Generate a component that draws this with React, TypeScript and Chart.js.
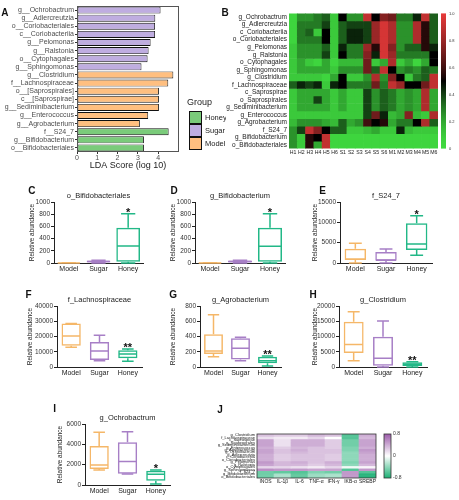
import React, { useEffect, useRef } from 'react';
import { Chart, registerables } from 'chart.js';

Chart.register(...registerables);

const FONT = "'Liberation Sans', Arial, Helvetica, sans-serif";

// ---------- Panel A: LDA scores ----------
const ldaTaxa = [
  'g__Ochrobactrum', 'g__Adlercreutzia', 'o__Coriobacteriales', 'c__Coriobacteriia',
  'g__Pelomonas', 'g__Ralstonia', 'o__Cytophagales', 'g__Sphingomonas',
  'g__Clostridium', 'f__Lachnospiraceae', 'o__[Saprospirales]', 'c__[Saprospirae]',
  'g__Sediminibacterium', 'g__Enterococcus', 'g__Agrobacterium',
  'f__S24_7', 'g__Bifidobacterium', 'o__Bifidobacteriales',
];
const ldaScores = [4.12, 3.86, 3.85, 3.85, 3.63, 3.53, 3.48, 3.18, 4.75, 4.5, 4.04, 4.04, 4.04, 3.51, 3.1, 4.52, 3.3, 3.3];
const ldaGroup = [
  'Sugar', 'Sugar', 'Sugar', 'Sugar', 'Sugar', 'Sugar', 'Sugar', 'Sugar',
  'Model', 'Model', 'Model', 'Model', 'Model', 'Model', 'Model',
  'Honey', 'Honey', 'Honey',
];
const ldaTicks = [0, 1, 2, 3, 4];
const groupNames = ['Honey', 'Sugar', 'Model'];
const groupFill = ['#7ACB7A', '#BFADE0', '#FFBF80'];

// ---------- Panel B: abundance heatmap ----------
const hmSamples = ['H1', 'H2', 'H3', 'H4', 'H5', 'H6', 'S1', 'S2', 'S3', 'S4', 'S5', 'S6', 'M1', 'M2', 'M3', 'M4', 'M5', 'M6'];
const hmTaxa = [
  'g_Ochrobactrum', 'g_Adlercreutzia', 'c_Coriobacteriia', 'o_Coriobacteriales',
  'g_Pelomonas', 'g_Ralstonia', 'o_Cytophagales', 'g_Sphingomonas',
  'g_Clostridium', 'f_Lachnospiraceae', 'c_Saprospirae', 'o_Saprospirales',
  'g_Sediminibacterium', 'g_Enterococcus', 'g_Agrobacterium', 'f_S24_7',
  'g_Bifidobacterium', 'o_Bifidobacteriales',
];
const hmValues = [
  [0.05, 0.25, 0.25, 0.3, 0.35, 0.1, 0.5, 0.25, 0.25, 0.9, 0.5, 0.75, 0.7, 0.3, 0.3, 0.45, 0.9, 0.35],
  [0.05, 0.3, 0.3, 0.3, 0.4, 0.1, 0.35, 0.4, 0.4, 0.4, 0.8, 0.95, 0.85, 0.25, 0.25, 0.85, 0.55, 0.35],
  [0.05, 0.3, 0.35, 0.1, 0.5, 0.1, 0.35, 0.45, 0.45, 0.4, 0.8, 0.95, 0.85, 0.25, 0.25, 0.85, 0.55, 0.35],
  [0.05, 0.3, 0.3, 0.3, 0.5, 0.1, 0.35, 0.45, 0.45, 0.4, 0.8, 0.95, 0.85, 0.25, 0.25, 0.85, 0.55, 0.35],
  [0.1, 0.25, 0.25, 0.25, 0.35, 0.1, 0.45, 0.3, 0.3, 0.8, 0.55, 0.95, 0.75, 0.25, 0.35, 0.35, 0.55, 0.45],
  [0.1, 0.25, 0.25, 0.25, 0.4, 0.1, 0.5, 0.3, 0.3, 0.75, 0.45, 0.95, 0.8, 0.3, 0.3, 0.3, 0.3, 0.5],
  [0.1, 0.2, 0.1, 0.05, 0.2, 0.05, 0.15, 0.15, 0.15, 0.7, 0.1, 0.2, 0.85, 0.1, 0.2, 0.05, 0.2, 0.5],
  [0.1, 0.2, 0.2, 0.2, 0.2, 0.1, 0.25, 0.25, 0.25, 0.7, 0.35, 0.9, 0.5, 0.25, 0.3, 0.25, 0.35, 0.3],
  [0.1, 0.1, 0.1, 0.1, 0.05, 0.2, 0.5, 0.1, 0.1, 0.25, 0.85, 0.25, 0.75, 0.5, 0.1, 0.3, 0.35, 0.9],
  [0.35, 0.45, 0.4, 0.45, 0.1, 0.45, 0.5, 0.3, 0.3, 0.3, 0.7, 0.3, 0.9, 0.8, 0.5, 0.5, 0.7, 0.9],
  [0.1, 0.2, 0.2, 0.2, 0.2, 0.1, 0.2, 0.1, 0.1, 0.4, 0.25, 0.35, 0.3, 0.2, 0.25, 0.2, 0.85, 0.2],
  [0.1, 0.2, 0.2, 0.4, 0.2, 0.1, 0.2, 0.1, 0.1, 0.4, 0.25, 0.35, 0.3, 0.2, 0.25, 0.2, 0.85, 0.2],
  [0.1, 0.2, 0.2, 0.2, 0.2, 0.1, 0.2, 0.1, 0.1, 0.4, 0.25, 0.35, 0.3, 0.2, 0.25, 0.2, 0.85, 0.2],
  [0.1, 0.1, 0.1, 0.1, 0.1, 0.1, 0.1, 0.1, 0.1, 0.4, 0.7, 0.45, 0.15, 0.2, 0.75, 0.15, 0.1, 0.85],
  [0.15, 0.25, 0.25, 0.25, 0.2, 0.15, 0.35, 0.2, 0.25, 0.6, 0.5, 0.55, 0.2, 0.3, 0.3, 0.5, 0.85, 0.35],
  [0.25, 0.4, 0.9, 0.75, 0.5, 0.35, 0.35, 0.1, 0.1, 0.15, 0.2, 0.1, 0.1, 0.45, 0.15, 0.1, 0.1, 0.1],
  [0.25, 0.1, 0.55, 0.5, 0.9, 0.05, 0.05, 0.05, 0.05, 0.05, 0.05, 0.05, 0.05, 0.05, 0.05, 0.05, 0.05, 0.05],
  [0.25, 0.1, 0.55, 0.2, 0.9, 0.05, 0.05, 0.05, 0.05, 0.05, 0.05, 0.05, 0.05, 0.05, 0.05, 0.05, 0.05, 0.05],
];
const hmBarTicks = [0, 0.2, 0.4, 0.6, 0.8, 1];

// ---------- Panels C–I: box plots (min, q1, median, q3, max) ----------
const boxGroups = ['Model', 'Sugar', 'Honey'];
const boxC = [[0, 0, 1, 3, 5], [0, 10, 25, 40, 45], [0, 20, 279, 579, 808]];
const boxD = [[0, 0, 1, 3, 5], [0, 10, 25, 40, 45], [0, 20, 275, 579, 808]];
const boxE = [[0, 740, 900, 3520, 4840], [0, 570, 700, 2700, 3440], [1890, 3200, 4670, 9760, 11630]];
const boxF = [[12900, 14000, 20300, 28600, 28600], [4100, 4600, 10500, 16400, 20800], [3700, 5700, 8500, 11000, 11800]];
const boxG = [[135, 170, 210, 429, 686], [83, 100, 245, 376, 390], [13, 48, 83, 135, 144]];
const boxH = [[2070, 4600, 7400, 14850, 18100], [0, 430, 2850, 9900, 15100], [0, 330, 880, 1540, 1750]];
const boxI = [[1480, 1570, 1970, 3840, 5180], [1080, 1110, 2300, 4200, 5240], [100, 420, 1050, 1410, 1480]];
const boxSig = ['', '', '*'];
const boxSig2 = ['', '', '**'];
const boxColors = ['#F5B768', '#A77FC6', '#22B887'];

// ---------- Panel J: correlation heatmap ----------
const corrMarkers = ['INOS', 'IL-1β', 'IL-6', 'TNF-α', 'IFN-γ', 'IKB-α', 'SREBP'];
const corrTaxa = [
  'g_Clostridium', 'f_Lachnospiraceae', 'c_Saprospirae', 'o_Saprospirales',
  'g_Sediminibacterium', 'g_Enterococcus', 'g_Agrobacterium', 'g_Ochrobactrum',
  'g_Adlercreutzia', 'c_Coriobacteriia', 'o_Coriobacteriales', 'g_Pelomonas',
  'g_Ralstonia', 'o_Cytophagales', 'g_Sphingomonas', 'f_S24_7',
  'g_Bifidobacterium', 'o_Bifidobacteriales',
];
const corrValues = [
  [0.3, 0.25, 0.25, 0.35, 0.3, -0.6, 0.4],
  [0.15, 0.1, 0.1, 0.2, 0.0, -0.6, 0.35],
  [0.45, 0.15, 0.4, 0.4, 0.25, -0.5, 0.45],
  [0.45, 0.15, 0.4, 0.4, 0.25, -0.5, 0.45],
  [0.45, 0.15, 0.4, 0.4, 0.25, -0.5, 0.45],
  [0.4, 0.25, 0.35, 0.3, 0.25, -0.45, 0.4],
  [0.45, 0.3, 0.4, 0.3, 0.3, -0.45, 0.5],
  [0.45, 0.3, 0.35, 0.3, 0.3, -0.4, 0.45],
  [0.4, 0.25, 0.3, 0.3, 0.25, -0.4, 0.4],
  [0.4, 0.25, 0.3, 0.3, 0.25, -0.4, 0.4],
  [0.4, 0.25, 0.3, 0.3, 0.25, -0.4, 0.4],
  [0.5, 0.35, 0.4, 0.3, 0.4, -0.45, 0.45],
  [0.45, 0.35, 0.35, 0.25, 0.35, -0.4, 0.35],
  [0.2, 0.2, 0.15, 0.1, 0.2, -0.05, 0.05],
  [0.55, 0.5, 0.5, 0.45, 0.45, -0.6, 0.5],
  [-0.5, -0.55, -0.6, -0.45, -0.5, 0.5, -0.6],
  [-0.5, -0.3, -0.55, -0.35, -0.3, 0.5, -0.75],
  [-0.5, -0.3, -0.55, -0.35, -0.3, 0.5, -0.75],
];
const corrBarTicks = [-0.8, 0, 0.8];

// ---------- colour maps ----------
function lerp(a: number[], b: number[], t: number) {
  const c = a.map((x, i) => Math.round(x + (b[i] - x) * t));
  return `rgb(${c[0]},${c[1]},${c[2]})`;
}
function greenBlackRed(v: number) {
  const g = [64, 218, 64], k = [0, 0, 0], r = [232, 58, 58];
  if (v <= 0.5) return lerp(g, k, Math.pow(v / 0.5, 1.6));
  return lerp(k, r, Math.pow((v - 0.5) / 0.5, 0.8));
}
function greenWhitePurple(v: number) {
  const w = [255, 255, 255], p = [156, 92, 170], g = [28, 176, 116];
  if (v >= 0) return lerp(w, p, Math.min(1, v / 0.8));
  return lerp(w, g, Math.min(1, -v / 0.8));
}
const plainNumber = (v: number) => String(v);

// ---------- chart builders ----------
const framePlugin = {
  id: 'frameA',
  afterDraw(chart: any) {
    const a = chart.chartArea, ctx = chart.ctx;
    ctx.save();
    ctx.strokeStyle = '#555';
    ctx.lineWidth = 1;
    ctx.strokeRect(a.left + 0.5, a.top + 0.5, a.right - a.left - 1, a.bottom - a.top - 1);
    ctx.restore();
  },
};
const legendPlugin = {
  id: 'legendA',
  afterDraw(chart: any) {
    const a = chart.chartArea, ctx = chart.ctx;
    ctx.save();
    ctx.fillStyle = '#222';
    ctx.font = `9px ${FONT}`;
    ctx.textBaseline = 'middle';
    ctx.textAlign = 'left';
    ctx.fillText('Group', a.right + 8, 103);
    groupNames.forEach((g, i) => {
      const y = 111 + i * 13;
      ctx.fillStyle = groupFill[i];
      ctx.fillRect(a.right + 10, y, 13, 13);
      ctx.strokeStyle = '#111';
      ctx.lineWidth = 1;
      ctx.strokeRect(a.right + 10.5, y + 0.5, 12, 12);
      ctx.fillStyle = '#222';
      ctx.font = `7.5px ${FONT}`;
      ctx.fillText(g, a.right + 26, y + 7);
    });
    ctx.restore();
  },
};

function ldaConfig(): any {
  return {
    type: 'bar',
    data: {
      labels: ldaTaxa,
      datasets: [{
        data: ldaScores,
        backgroundColor: ldaGroup.map((g) => groupFill[groupNames.indexOf(g)]),
        borderColor: '#111',
        borderWidth: 0.9,
        borderSkipped: false,
        barPercentage: 0.86,
        categoryPercentage: 1,
      }],
    },
    options: {
      indexAxis: 'y',
      responsive: false,
      animation: false,
      devicePixelRatio: 1,
      layout: { padding: { top: 6, right: 47, left: 0, bottom: 0 } },
      plugins: { legend: { display: false }, tooltip: { enabled: false } },
      scales: {
        x: {
          min: 0, max: 5.03,
          afterBuildTicks: (s: any) => { s.ticks = ldaTicks.map((v) => ({ value: v })); },
          ticks: { font: { size: 7, family: FONT }, color: '#4d4d4d', padding: 0, callback: plainNumber },
          grid: { display: true, drawOnChartArea: false, drawTicks: true, tickLength: 2, color: '#333' },
          border: { display: false },
          title: { display: true, text: 'LDA Score (log 10)', font: { size: 9, family: FONT }, color: '#222', padding: { top: 0, bottom: 1 } },
          afterFit: (s: any) => { s.height = 20; },
        },
        y: {
          ticks: { font: { size: 7, family: FONT }, color: '#4d4d4d', padding: 1, autoSkip: false },
          grid: { display: true, offset: false, drawOnChartArea: false, drawTicks: true, tickLength: 2, color: '#333' },
          border: { display: false },
          afterFit: (s: any) => { s.width = 77; },
        },
      },
    },
    plugins: [framePlugin, legendPlugin],
  };
}

type HeatOpts = {
  id: string; rows: string[]; cols: string[]; values: number[][]; color: (v: number) => string;
  yFont: number; xFont: number; yAxisW: number; xAxisH: number; padTop: number;
  cbMin: number; cbMax: number; cbTicks: number[]; cbLabel: (v: number) => string; cbFont: number;
  cbOffset: number; cbWidth: number; cbPad: number; cbAxisW: number; frame: boolean;
};
function heatConfig(o: HeatOpts): any {
  const datasets = o.rows.map((r, i) => ({
    label: r,
    data: o.cols.map(() => 1),
    backgroundColor: o.values[i].map(o.color),
    borderWidth: 0,
    barPercentage: 1,
    categoryPercentage: 1,
    xAxisID: 'x',
    yAxisID: 'y',
    stack: 'cells',
  }));
  const cbPlugin = {
    id: 'colorbar' + o.id,
    afterDraw(chart: any) {
      const s = chart.scales.cb, ctx = chart.ctx;
      const top = s.getPixelForValue(o.cbMax), bot = s.getPixelForValue(o.cbMin);
      const x0 = s.left + o.cbOffset;
      const g = ctx.createLinearGradient(0, bot, 0, top);
      for (let k = 0; k <= 40; k++) {
        const v = o.cbMin + ((o.cbMax - o.cbMin) * k) / 40;
        g.addColorStop(k / 40, o.color(v));
      }
      ctx.save();
      ctx.fillStyle = g;
      ctx.fillRect(x0, top, o.cbWidth, bot - top);
      if (o.frame) {
        ctx.strokeStyle = '#333';
        ctx.lineWidth = 0.8;
        ctx.strokeRect(x0, top, o.cbWidth, bot - top);
        const a = chart.chartArea;
        ctx.strokeRect(a.left, a.top, a.right - a.left, a.bottom - a.top);
      }
      ctx.restore();
    },
  };
  return {
    type: 'bar',
    data: { labels: o.cols, datasets },
    options: {
      responsive: false,
      animation: false,
      devicePixelRatio: 1,
      layout: { padding: { top: o.padTop, right: 0, left: 0, bottom: 0 } },
      plugins: { legend: { display: false }, tooltip: { enabled: false } },
      scales: {
        x: {
          stacked: true,
          ticks: { font: { size: o.xFont, family: FONT }, color: '#222', padding: 1, autoSkip: false, maxRotation: 0 },
          grid: { display: false, drawTicks: false },
          border: { display: false },
          afterFit: (s: any) => { s.height = o.xAxisH; },
        },
        y: {
          stacked: true,
          reverse: true,
          min: 0,
          max: o.rows.length,
          afterBuildTicks: (s: any) => { s.ticks = o.rows.map((_, i) => ({ value: i + 0.5 })); },
          ticks: {
            font: { size: o.yFont, family: FONT }, color: '#222', padding: 2, autoSkip: false,
            callback: (v: number) => o.rows[Math.floor(v)],
          },
          grid: { display: false, drawTicks: false },
          border: { display: false },
          afterFit: (s: any) => { s.width = o.yAxisW; },
        },
        cb: {
          axis: 'y',
          position: 'right',
          min: o.cbMin,
          max: o.cbMax,
          afterBuildTicks: (s: any) => { s.ticks = o.cbTicks.map((v) => ({ value: v })); },
          ticks: { font: { size: o.cbFont, family: FONT }, color: '#333', padding: o.cbPad, autoSkip: false, callback: (v: number) => o.cbLabel(v) },
          grid: { display: false, drawTicks: false },
          border: { display: false },
          afterFit: (s: any) => { s.width = o.cbAxisW; },
        },
      },
    },
    plugins: [cbPlugin],
  };
}

type BoxSpec = {
  key: string; title: string; stats: number[][]; sig: string[]; max: number; step: number;
  L: number; R: number; T: number; B: number; yTitleX: number; barPct: number;
};
function boxLayout(s: BoxSpec) {
  const left = Math.round(s.yTitleX - 4.5);
  const top = s.T - 12;
  const padR = 6;
  const xAxisH = 12;
  return { left, top, width: s.R + padR - left, height: s.B + xAxisH - top, padR, xAxisH };
}
function boxConfig(s: BoxSpec): any {
  const lay = boxLayout(s);
  const yAxisW = s.L - lay.left;
  const tickFont = { size: 6.5, family: FONT };
  const extras = {
    id: 'box' + s.key,
    afterDatasetsDraw(chart: any) {
      const meta = chart.getDatasetMeta(0);
      const y = chart.scales.y;
      const ctx = chart.ctx;
      ctx.save();
      meta.data.forEach((bar: any, i: number) => {
        const p = bar.getProps(['x', 'width'], true);
        const st = s.stats[i];
        const col = boxColors[i];
        const cx = p.x, w = p.width;
        const yMin = y.getPixelForValue(st[0]);
        const yQ1 = y.getPixelForValue(st[1]);
        const yMed = y.getPixelForValue(st[2]);
        const yQ3 = y.getPixelForValue(st[3]);
        const yMax = y.getPixelForValue(st[4]);
        ctx.strokeStyle = col;
        ctx.lineWidth = 1.5;
        ctx.beginPath();
        ctx.moveTo(cx, yMin); ctx.lineTo(cx, yQ1);
        ctx.moveTo(cx, yQ3); ctx.lineTo(cx, yMax);
        ctx.moveTo(cx - w * 0.3, yMin); ctx.lineTo(cx + w * 0.3, yMin);
        ctx.moveTo(cx - w * 0.3, yMax); ctx.lineTo(cx + w * 0.3, yMax);
        ctx.moveTo(cx - w / 2 + 0.75, yMed); ctx.lineTo(cx + w / 2 - 0.75, yMed);
        ctx.stroke();
        if (s.sig[i]) {
          ctx.fillStyle = '#111';
          ctx.font = `bold 11px ${FONT}`;
          ctx.textAlign = 'center';
          ctx.textBaseline = 'alphabetic';
          ctx.fillText(s.sig[i], cx, yMax + 2);
        }
      });
      ctx.restore();
    },
  };
  return {
    type: 'bar',
    data: {
      labels: boxGroups,
      datasets: [{
        data: s.stats.map((st) => [st[1], st[3]]),
        backgroundColor: 'rgba(0,0,0,0)',
        borderColor: boxColors,
        borderWidth: 1.5,
        borderSkipped: false,
        barPercentage: s.barPct,
        categoryPercentage: 1,
      }],
    },
    options: {
      responsive: false,
      animation: false,
      devicePixelRatio: 1,
      layout: { padding: { left: 0, right: lay.padR, top: 0, bottom: 0 } },
      plugins: {
        legend: { display: false },
        tooltip: { enabled: false },
        title: { display: true, fullSize: false, text: s.title, font: { size: 7.5, family: FONT, weight: 'normal' }, color: '#222', padding: { top: 1.5, bottom: 1.5 } },
      },
      scales: {
        x: {
          ticks: { font: { size: 7, family: FONT }, color: '#222', padding: 2, autoSkip: false, maxRotation: 0 },
          grid: { display: false, drawTicks: false },
          border: { display: true, color: '#222', width: 1 },
          afterFit: (sc: any) => { sc.height = lay.xAxisH; },
        },
        y: {
          min: 0,
          max: s.max,
          ticks: { stepSize: s.step, font: tickFont, color: '#333', padding: 1, callback: plainNumber },
          grid: { display: true, drawOnChartArea: false, drawTicks: true, tickLength: 3, color: '#222' },
          border: { display: true, color: '#222', width: 1 },
          title: { display: true, text: 'Relative abundance', font: { size: 6.5, family: FONT }, color: '#222', padding: { top: s.yTitleX - lay.left - 3.9, bottom: 0 } },
          afterFit: (sc: any) => { sc.width = yAxisW; },
        },
      },
    },
    plugins: [extras],
  };
}

function ChartCanvas({ left, top, width, height, make }: { left: number; top: number; width: number; height: number; make: () => any }) {
  const ref = useRef<HTMLCanvasElement>(null);
  useEffect(() => {
    const chart = new Chart(ref.current as HTMLCanvasElement, make());
    return () => chart.destroy();
  }, []);
  return (
    <div style={{ position: 'absolute', left, top, width, height }}>
      <canvas ref={ref} width={width} height={height} style={{ width, height, display: 'block' }} />
    </div>
  );
}

const boxSpecs: BoxSpec[] = [
  { key: 'C', title: 'o_Bifidobacteriales', stats: boxC, sig: boxSig, max: 1000, step: 200, L: 54, R: 143, T: 202, B: 263, yTitleX: 32.3, barPct: 0.8 },
  { key: 'D', title: 'g_Bifidobacterium', stats: boxD, sig: boxSig, max: 1000, step: 200, L: 195, R: 285, T: 202, B: 263, yTitleX: 173.5, barPct: 0.8 },
  { key: 'E', title: 'f_S24_7', stats: boxE, sig: boxSig, max: 15000, step: 5000, L: 340, R: 432, T: 202, B: 263, yTitleX: 315, barPct: 0.7 },
  { key: 'F', title: 'f_Lachnospiraceae', stats: boxF, sig: boxSig2, max: 40000, step: 10000, L: 57, R: 142, T: 306, B: 367, yTitleX: 30, barPct: 0.68 },
  { key: 'G', title: 'g_Agrobacterium', stats: boxG, sig: boxSig2, max: 800, step: 200, L: 200, R: 281, T: 306, B: 367, yTitleX: 173.5, barPct: 0.7 },
  { key: 'H', title: 'g_Clostridium', stats: boxH, sig: boxSig2, max: 20000, step: 5000, L: 339, R: 427, T: 306, B: 367, yTitleX: 315, barPct: 0.68 },
  { key: 'I', title: 'g_Ochrobactrum', stats: boxI, sig: boxSig, max: 6000, step: 2000, L: 85, R: 170, T: 424, B: 485, yTitleX: 60, barPct: 0.68 },
];

const letters = [
  { t: 'A', x: 4.7, y: 13 }, { t: 'B', x: 225, y: 13 },
  { t: 'C', x: 31.7, y: 191 }, { t: 'D', x: 174, y: 191 }, { t: 'E', x: 322.7, y: 191 },
  { t: 'F', x: 29, y: 295 }, { t: 'G', x: 172.7, y: 295 }, { t: 'H', x: 313, y: 295 },
  { t: 'I', x: 56.7, y: 409 }, { t: 'J', x: 220.7, y: 410 },
];

export default function App() {
  const hmB = (): any => heatConfig({
    id: 'B', rows: hmTaxa, cols: hmSamples, values: hmValues, color: greenBlackRed,
    yFont: 6.5, xFont: 5.2, yAxisW: 89, xAxisH: 10, padTop: 6,
    cbMin: 0, cbMax: 1, cbTicks: hmBarTicks, cbLabel: (v) => (v === 0 ? '0' : v.toFixed(1)), cbFont: 4,
    cbOffset: 3, cbWidth: 5, cbPad: 11, cbAxisW: 21, frame: false,
  });
  const hmJ = (): any => heatConfig({
    id: 'J', rows: corrTaxa, cols: corrMarkers, values: corrValues, color: greenWhitePurple,
    yFont: 4, xFont: 5, yAxisW: 39, xAxisH: 9, padTop: 4,
    cbMin: -0.8, cbMax: 0.8, cbTicks: corrBarTicks, cbLabel: (v) => (Math.abs(v) < 1e-9 ? '0' : v.toFixed(1)), cbFont: 5,
    cbOffset: 8, cbWidth: 7, cbPad: 17, cbAxisW: 30, frame: true,
  });
  return (
    <div style={{ position: 'fixed', left: 0, top: 0, width: 459, height: 500, background: '#fff', overflow: 'hidden', fontFamily: FONT }}>
      <ChartCanvas left={0} top={0} width={226} height={172} make={ldaConfig} />
      <ChartCanvas left={200} top={0} width={259} height={162} make={hmB} />
      {boxSpecs.map((s) => {
        const lay = boxLayout(s);
        return <ChartCanvas key={s.key} left={lay.left} top={lay.top} width={lay.width} height={lay.height} make={() => boxConfig(s)} />;
      })}
      <ChartCanvas left={218} top={414} width={188} height={84} make={hmJ} />
      {letters.map((l) => (
        <div key={l.t} style={{ position: 'absolute', left: l.x - 3.5, top: l.y - 6, fontSize: 10, lineHeight: '12px', fontWeight: 'bold', color: '#111' }}>{l.t}</div>
      ))}
    </div>
  );
}
